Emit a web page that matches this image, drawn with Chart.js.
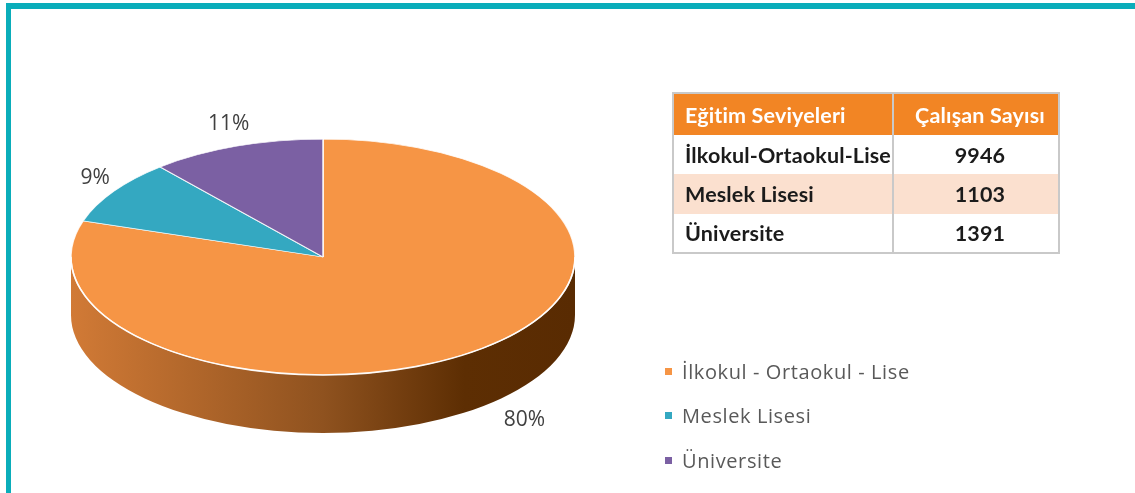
<!DOCTYPE html>
<html>
<head>
<meta charset="utf-8">
<script src="https://cdn.jsdelivr.net/npm/chart.js@4/dist/chart.umd.min.js"></script>
<style>
  html, body { margin:0; padding:0; background:#fff; }
  body { width:1135px; height:493px; overflow:hidden; position:relative; }
  .frame { position:absolute; left:6px; top:3px; right:-20px; bottom:-20px;
           border-top:6px solid #0aadba; border-left:5px solid #0aadba; }
  #c { position:absolute; left:0; top:0; }
  #tbl { position:absolute; left:672px; top:92px; width:386px; table-layout:fixed;
         border-collapse:collapse; font-family:Lato, "Open Sans", sans-serif; font-weight:bold;
         font-size:21.5px; letter-spacing:0.15px; color:#1b1b1b; border:2px solid #c9c9c9; }
  #tbl th, #tbl td { padding:0 0 0 11px; white-space:nowrap; overflow:visible; }
  #tbl th { background:#f28524; color:#fff; font-weight:bold; text-align:left; }
  #tbl .num { text-align:center; padding-left:8px; padding-right:0; }
  #tbl .c2 { border-left:2px solid #c9c9c9; }
  #tbl tr.alt td { background:#fbe0cf; }
  #legend { position:absolute; left:665px; top:356px; font-family:"Open Sans", sans-serif;
            font-size:20px; letter-spacing:0.6px; color:#595959; }
  #legend .item { display:flex; align-items:center; height:30px; margin-bottom:14.5px; }
  #legend .sw { width:7px; height:7px; margin-right:10px; }
</style>
</head>
<body>
<div class="frame"></div>
<canvas id="c" width="1135" height="493"></canvas>
<table id="tbl"></table>
<div id="legend"></div>
<script>
// ---- data ----
const categories = ['İlkokul - Ortaokul - Lise', 'Meslek Lisesi', 'Üniversite'];
const tableLabels = ['İlkokul-Ortaokul-Lise', 'Meslek Lisesi', 'Üniversite'];
const tableHeaders = ['Eğitim Seviyeleri', 'Çalışan Sayısı'];
const employeeCounts = [9946, 1103, 1391];
const sliceColors = ['#f69545', '#34a8c1', '#7b60a3'];

// ---- table ----
const tbl = document.getElementById('tbl');
let html = '<colgroup><col style="width:220px"><col style="width:166px"></colgroup>';
html += '<tr style="height:42px"><th>' + tableHeaders[0] + '</th><th class="num c2">' + tableHeaders[1] + '</th></tr>';
const rowH = [39, 40, 39];
tableLabels.forEach((lab, i) => {
  html += '<tr class="' + (i === 1 ? 'alt' : '') + '" style="height:' + rowH[i] + 'px"><td>' + lab +
          '</td><td class="num c2">' + employeeCounts[i] + '</td></tr>';
});
tbl.innerHTML = html;

// ---- legend ----
const leg = document.getElementById('legend');
categories.forEach((c, i) => {
  const d = document.createElement('div'); d.className = 'item';
  const s = document.createElement('span'); s.className = 'sw'; s.style.background = sliceColors[i];
  const t = document.createElement('span'); t.textContent = c;
  d.appendChild(s); d.appendChild(t); leg.appendChild(d);
});

// ---- 3D pie ----
const K = 0.468;      // vertical squash
const DEPTH = 58;     // side thickness
function shade(hex, m) {
  const n = parseInt(hex.slice(1), 16);
  const r = (n >> 16) & 255, g = (n >> 8) & 255, b = n & 255;
  return 'rgb(' + Math.round(r*m[0]) + ',' + Math.round(g*m[1]) + ',' + Math.round(b*m[2]) + ')';
}
const pie3d = {
  id: 'pie3d',
  beforeDatasetsDraw(chart) {
    const meta = chart.getDatasetMeta(0);
    const ctx = chart.ctx;
    const a0 = meta.data[0];
    const cx = a0.x, cy = a0.y, r = a0.outerRadius;
    meta.data.forEach((arc, i) => {
      const a = Math.max(arc.startAngle, 0), b = Math.min(arc.endAngle, Math.PI);
      if (b <= a) return;
      const col = sliceColors[i];
      const g = ctx.createLinearGradient(cx - r, 0, cx + r, 0);
      g.addColorStop(0, shade(col, [0.85, 0.82, 0.78]));
      g.addColorStop(0.5, shade(col, [0.58, 0.55, 0.45]));
      g.addColorStop(0.78, shade(col, [0.38, 0.31, 0.05]));
      g.addColorStop(1, shade(col, [0.36, 0.29, 0.03]));
      ctx.save();
      ctx.beginPath();
      ctx.ellipse(cx, cy, r, r*K, 0, a, b, false);
      ctx.lineTo(cx + r*Math.cos(b), cy + r*K*Math.sin(b) + DEPTH);
      ctx.ellipse(cx, cy + DEPTH, r, r*K, 0, b, a, true);
      ctx.closePath();
      ctx.fillStyle = g;
      ctx.fill();
      ctx.restore();
    });
    ctx.save();
    ctx.translate(cx, cy); ctx.scale(1, K); ctx.translate(-cx, -cy);
  },
  afterDatasetsDraw(chart) {
    const ctx = chart.ctx;
    ctx.restore();
    const meta = chart.getDatasetMeta(0);
    const a0 = meta.data[0];
    const cx = a0.x, cy = a0.y, r = a0.outerRadius;
    // light rim between top face and side
    ctx.save();
    ctx.beginPath();
    ctx.ellipse(cx, cy, r, r*K, 0, 0, Math.PI, false);
    ctx.strokeStyle = 'rgba(255,255,255,0.9)';
    ctx.lineWidth = 1.6;
    ctx.stroke();
    ctx.restore();
    // percent labels
    const total = employeeCounts.reduce((s, v) => s + v, 0);
    ctx.save();
    ctx.font = '21px "Open Sans", sans-serif';
    ctx.fillStyle = '#404040';
    ctx.textAlign = 'center';
    ctx.textBaseline = 'middle';
    meta.data.forEach((arc, i) => {
      const mid = (arc.startAngle + arc.endAngle) / 2;
      const c = Math.cos(mid), s = Math.sin(mid);
      const ex = cx + r*c;
      const ey = cy + r*K*s + (s > 0 ? DEPTH : 0);
      const lx = ex + c*22 + (s > 0 ? 40 : 0);
      const ly = ey + s*(s > 0 ? 12 : 24);
      ctx.fillText(Math.round(employeeCounts[i] / total * 100) + '%', lx, ly);
    });
    ctx.restore();
  }
};

new Chart(document.getElementById('c'), {
  type: 'pie',
  data: {
    labels: categories,
    datasets: [{
      data: employeeCounts,
      backgroundColor: sliceColors,
      borderColor: 'rgba(255,255,255,0.85)',
      borderWidth: 1.6,
      clip: false
    }]
  },
  options: {
    responsive: false,
    animation: false,
    radius: 252,
    layout: { padding: { left: 0, right: 489, top: 21, bottom: 0 } },
    plugins: { legend: { display: false }, tooltip: { enabled: false } },
    events: []
  },
  plugins: [pie3d]
});
</script>
</body>
</html>
